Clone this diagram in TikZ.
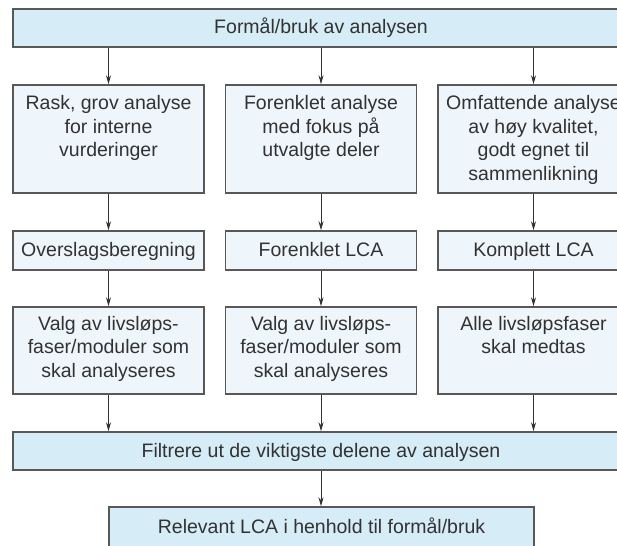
\documentclass[tikz,border=0pt]{standalone}
\usepackage{fontspec}
\setmainfont{Liberation Sans}
\usetikzlibrary{arrows.meta}

\definecolor{headfill}{RGB}{214,236,247}
\definecolor{cellfill}{RGB}{238,246,251}
\definecolor{edge}{RGB}{88,88,88}
\definecolor{ink}{RGB}{50,50,50}

% Cell content: fixed-height box with the text set from the top
\newcommand{\cellbox}[3]{\parbox[c][#1][t]{189pt}{\centering\vspace*{#2}\strut #3}}

\begin{document}
\begin{tikzpicture}[x=1pt, y=-1pt,
  every node/.style={font=\fontsize{19.5pt}{23.5pt}\selectfont, text=ink},
  head/.style={draw=edge, line width=1.5pt, fill=headfill, inner sep=0pt,
               text height=15pt, text depth=3pt},
  cell/.style={draw=edge, line width=1.5pt, fill=cellfill, inner sep=0pt,
               minimum width=191pt},
  one/.style={cell, minimum height=39pt, text height=15pt, text depth=3pt},
  link/.style={draw=ink, line width=0.9pt, -{Stealth[length=9pt,width=5pt]}}]

\useasboundingbox (0,0) rectangle (617,545);
\clip (0,0) rectangle (617,545);

% purpose of the analysis
\node[head, minimum width=616pt, minimum height=38pt] (purpose) at (321,28)
  {Formål/bruk av analysen};

% level of ambition
\node[cell] (a1) at (108.5,139)
  {\cellbox{108pt}{8.5pt}{Rask, grov analyse\\for interne\\vurderinger}};
\node[cell] (b1) at (321,139)
  {\cellbox{108pt}{8.5pt}{Forenklet analyse\\med fokus på\\utvalgte deler}};
\node[cell] (c1) at (533.5,139)
  {\cellbox{108pt}{8.5pt}{Omfattende analyse\\av høy kvalitet,\\godt egnet til\\sammenlikning}};

% type of LCA
\node[one] (a2) at (108.5,250.5) {Overslagsberegning};
\node[one] (b2) at (321,250.5) {Forenklet LCA};
\node[one] (c2) at (533.5,250.5) {Komplett LCA};

% scope
\node[cell] (a3) at (108.5,350.5)
  {\cellbox{87pt}{7pt}{Valg av livsløps-\\faser/moduler som\\skal analyseres}};
\node[cell] (b3) at (321,350.5)
  {\cellbox{87pt}{7pt}{Valg av livsløps-\\faser/moduler som\\skal analyseres}};
\node[cell] (c3) at (533.5,350.5)
  {\cellbox{87pt}{7pt}{Alle livsløpsfaser\\skal medtas}};

% filtering and result
\node[head, minimum width=616pt, minimum height=38pt] (filter) at (321,451)
  {Filtrere ut de viktigste delene av analysen};
\node[head, minimum width=425pt, minimum height=40pt] (result) at (321.5,527)
  {Relevant LCA i henhold til formål/bruk};

% connectors
\foreach \c in {a,b,c}{
  \draw[link] (purpose.south -| \c1.north) -- (\c1.north);
  \draw[link] (\c1.south) -- (\c2.north);
  \draw[link] (\c2.south) -- (\c3.north);
  \draw[link] (\c3.south) -- (filter.north -| \c3.south);
}
\draw[link] (filter.south) -- (filter.south |- result.north);

\end{tikzpicture}
\end{document}
